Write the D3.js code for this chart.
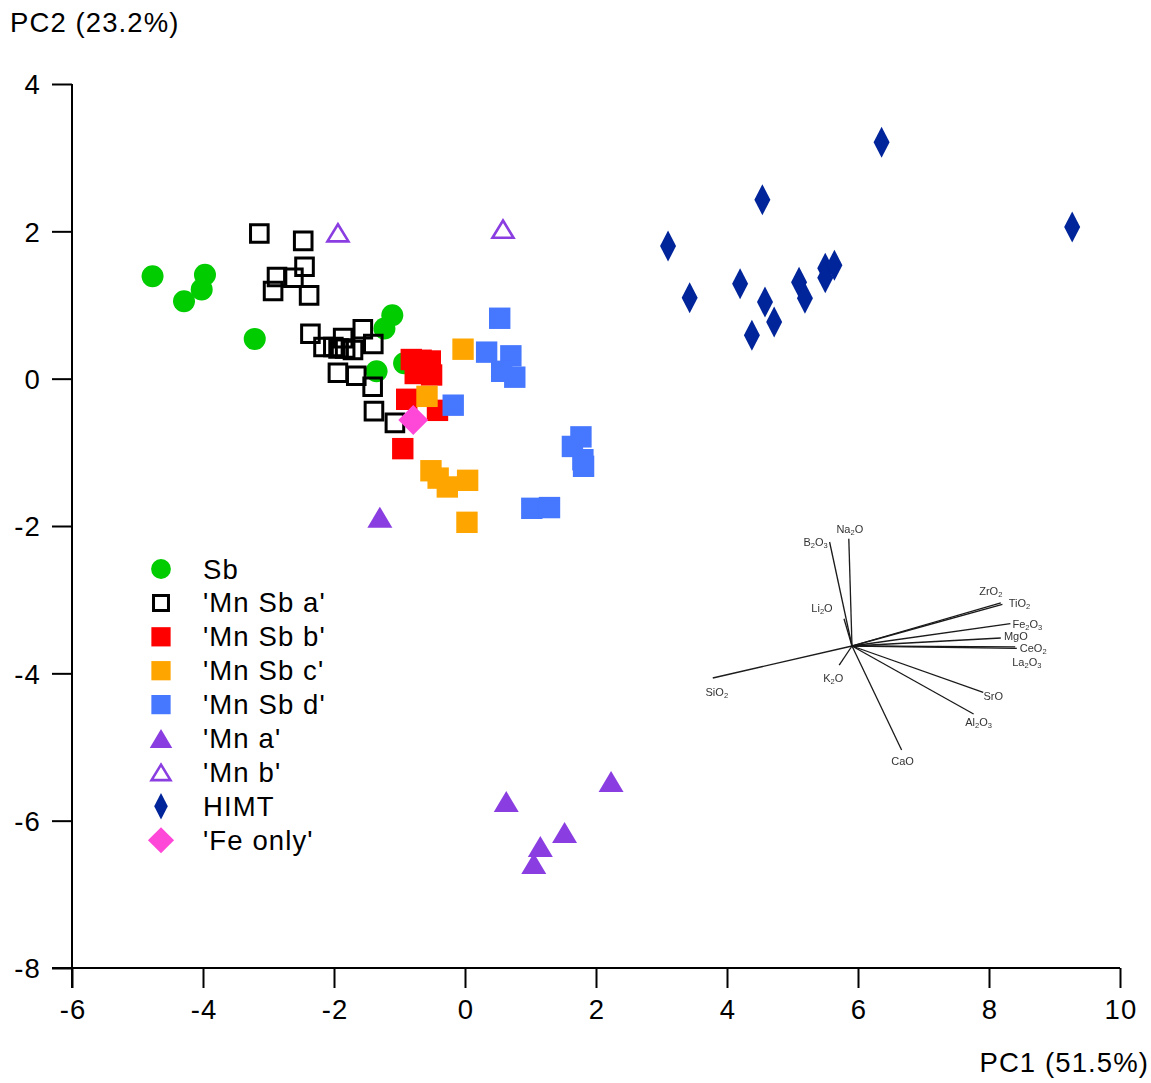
<!DOCTYPE html>
<html>
<head>
<meta charset="utf-8">
<script src="https://cdn.jsdelivr.net/npm/d3@7"></script>
<style>
  html, body { margin: 0; padding: 0; background: #fff; }
  svg { display: block; }
  text { font-family: "Liberation Sans", Arial, Helvetica, sans-serif; }
  .big { font-size: 27.5px; letter-spacing: 1.1px; }
</style>
</head>
<body>
<svg id="chart" width="1151" height="1083"></svg>
<script>
// ---- Scores (PC1, PC2) for each glass group ----
const sb = [[-4.77,1.39],[-3.97,1.41],[-4.02,1.21],[-4.29,1.05],[-3.21,0.54],
            [-1.11,0.86],[-1.23,0.68],[-1.35,0.10],[-0.93,0.21]];
const mnSbA = [[-3.14,1.97],[-2.47,1.87],[-2.45,1.52],[-2.87,1.38],[-2.62,1.37],
               [-2.93,1.19],[-2.38,1.13],[-2.36,0.61],[-1.56,0.67],[-1.86,0.55],
               [-2.16,0.43],[-2.01,0.43],[-1.93,0.41],[-1.83,0.41],[-1.71,0.39],
               [-1.40,0.47],[-1.94,0.08],[-1.66,0.04],[-1.41,-0.11],[-1.39,-0.44],[-1.07,-0.60]];
const mnSbB = [[-0.82,0.26],[-0.67,0.25],[-0.53,0.24],[-0.76,0.07],[-0.60,0.14],
               [-0.51,0.05],[-0.89,-0.28],[-0.42,-0.43],[-0.95,-0.95]];
const mnSbC = [[-0.03,0.40],[-0.58,-0.24],[-0.52,-1.25],[-0.41,-1.35],[-0.27,-1.47],
               [0.04,-1.38],[0.03,-1.95]];
const mnSbD = [[0.53,0.82],[0.33,0.36],[0.70,0.31],[0.56,0.10],[0.76,0.02],[-0.18,-0.36],
               [1.77,-0.79],[1.64,-0.92],[1.80,-1.10],[1.81,-1.19],[1.02,-1.76],[1.29,-1.75]];
const mnA = [[-1.30,-1.88],[0.63,-5.74],[2.23,-5.47],[1.52,-6.16],[1.15,-6.35],[1.05,-6.58]];
const mnB = [[-1.94,1.98],[0.58,2.03]];
const himt = [[6.36,3.21],[4.54,2.43],[3.10,1.80],[9.27,2.06],[3.43,1.10],[4.20,1.29],
              [4.58,1.04],[4.72,0.77],[4.38,0.59],[5.10,1.31],[5.19,1.09],[5.50,1.50],
              [5.64,1.54],[5.50,1.37]];
const feOnly = [[-0.79,-0.56]];

const seriesNames = ["Sb", "'Mn Sb a'", "'Mn Sb b'", "'Mn Sb c'", "'Mn Sb d'", "'Mn a'", "'Mn b'", "HIMT", "'Fe only'"];
const seriesData = [sb, mnSbA, mnSbB, mnSbC, mnSbD, mnA, mnB, himt, feOnly];

// ---- Axis ticks ----
const xTicks = [-6, -4, -2, 0, 2, 4, 6, 8, 10];
const yTicks = [-8, -6, -4, -2, 0, 2, 4];
const xTitle = "PC1 (51.5%)";
const yTitle = "PC2 (23.2%)";

// ---- Oxide loadings for the biplot inset (PC1, PC2) ----
const oxides = ["Na2O","B2O3","Li2O","ZrO2","TiO2","Fe2O3","MgO","CeO2","La2O3","SiO2","K2O","SrO","Al2O3","CaO"];
const loadPC1 = [-0.02,-0.14,-0.05, 0.93, 0.94, 0.99, 0.93, 1.02, 1.03,-0.87,-0.08, 0.82, 0.76, 0.31];
const loadPC2 = [ 0.67, 0.65, 0.17, 0.27, 0.26, 0.14, 0.05,-0.005,-0.015,-0.20,-0.12,-0.29,-0.425,-0.65];

// ---- Styling ----
const styles = [
  {shape: "circle",   fill: "#00cc00", stroke: "none"},
  {shape: "square",   fill: "none",    stroke: "#000"},
  {shape: "squareF",  fill: "#ff0000", stroke: "none"},
  {shape: "squareF",  fill: "#ffa500", stroke: "none"},
  {shape: "squareF",  fill: "#4677ff", stroke: "none"},
  {shape: "triangle", fill: "#8a3de0", stroke: "none"},
  {shape: "triangleO",fill: "none",    stroke: "#8a3de0"},
  {shape: "diamondT", fill: "#002499", stroke: "none"},
  {shape: "diamond",  fill: "#ff47d8", stroke: "none"}
];

const svg = d3.select("#chart");
const x = d3.scaleLinear().domain([-6, 10]).range([72, 1120]);
const y = d3.scaleLinear().domain([-8, 4]).range([968, 84]);

// path for a marker shape, centred at the origin; k scales it (plot = 1, legend smaller)
function shapePath(shape, k) {
  switch (shape) {
    case "circle": {
      const r = 11 * k;
      return `M${-r},0A${r},${r} 0 1,0 ${r},0A${r},${r} 0 1,0 ${-r},0Z`;
    }
    case "square": { const h = 8.8 * k; return `M${-h},${-h}H${h}V${h}H${-h}Z`; }
    case "squareF": { const h = 10.7 * k; return `M${-h},${-h}H${h}V${h}H${-h}Z`; }
    case "triangle": { const w = 12.5 * k, h = 10.5 * k; return `M0,${-h}L${w},${h}L${-w},${h}Z`; }
    case "triangleO": { const w = 10.5 * k, h = 8.6 * k; return `M0,${-h}L${w},${h}L${-w},${h}Z`; }
    case "diamondT": { const w = 8 * k, h = 15.5 * k; return `M0,${-h}L${w},0L0,${h}L${-w},0Z`; }
    case "diamond": { const h = 15 * k; return `M0,${-h}L${h},0L0,${h}L${-h},0Z`; }
  }
}
function strokeW(shape) { return shape === "square" ? 3 : shape === "triangleO" ? 2.6 : 0; }

// ---- Axes ----
const fmt = d => String(d);   // plain hyphen for negatives
const xAxis = d3.axisBottom(x).tickValues(xTicks).tickSize(20).tickSizeOuter(0).tickPadding(12).tickFormat(fmt);
const yAxis = d3.axisLeft(y).tickValues(yTicks).tickSize(20).tickSizeOuter(0).tickPadding(11).tickFormat(fmt);

const gx = svg.append("g").attr("transform", "translate(0,968)").call(xAxis);
const gy = svg.append("g").attr("transform", "translate(72,0)").call(yAxis);
[gx, gy].forEach(g => {
  g.attr("font-size", null).attr("font-family", null);
  g.select(".domain").attr("stroke", "#000").attr("stroke-width", 2);
  g.selectAll(".tick line").attr("stroke", "#000").attr("stroke-width", 2);
  g.selectAll(".tick text").attr("fill", "#000").attr("class", "big");
});
gx.selectAll(".tick text").attr("dy", "0.7em").attr("dx", 0.5);
gy.selectAll(".tick text").attr("dy", "0.36em");
gx.select(".domain").attr("d", "M52,0H1120");
gy.select(".domain").attr("d", "M0,84V988");

svg.append("text").attr("class", "big").attr("x", 10).attr("y", 32).text(yTitle);
svg.append("text").attr("class", "big").attr("x", 1149).attr("y", 1072)
  .attr("text-anchor", "end").text(xTitle);

// ---- Biplot of oxide loadings ----
const defs = svg.append("defs");
defs.append("filter").attr("id", "soft").append("feGaussianBlur").attr("stdDeviation", 0.45);
const inset = svg.append("g").attr("filter", "url(#soft)");
const lx = d3.scaleLinear().domain([0, 1]).range([852, 1012]);
const ly = d3.scaleLinear().domain([0, 1]).range([646, 486]);
// where each label sits relative to its vector tip (px)
const labelOffset = {
  Na2O:[1,-10], B2O3:[-14,0], Li2O:[-22,-11], ZrO2:[-10,-12], TiO2:[17,-1], Fe2O3:[17,0],
  MgO:[15,-2], CeO2:[18,1], La2O3:[10,14], SiO2:[4,14], K2O:[-6,13], SrO:[10,4],
  Al2O3:[5,8], CaO:[1,11]
};
oxides.forEach((name, i) => {
  const x1 = lx(loadPC1[i]), y1 = ly(loadPC2[i]);
  inset.append("line").attr("x1", lx(0)).attr("y1", ly(0)).attr("x2", x1).attr("y2", y1)
    .attr("stroke", "#1a1a1a").attr("stroke-width", 1.3);
  const off = labelOffset[name];
  const t = inset.append("text").attr("x", x1 + off[0]).attr("y", y1 + off[1] + 4)
    .attr("text-anchor", "middle").attr("font-size", 11)
    .attr("font-family", "'Open Sans', 'Liberation Sans', sans-serif").attr("fill", "#333");
  // split formula into element symbols and subscript digits
  name.match(/[A-Za-z]+|\d+/g).forEach(part => {
    if (/\d/.test(part)) t.append("tspan").attr("font-size", 7.5).attr("dy", 2).text(part);
    else {
      const sp = t.append("tspan").text(part);
      if (t.selectAll("tspan").size() > 1) sp.attr("dy", -2);
    }
  });
});

// ---- Scatter points ----
seriesData.forEach((data, si) => {
  const st = styles[si];
  svg.append("g").selectAll("path").data(data).join("path")
    .attr("transform", d => `translate(${x(d[0])},${y(d[1])})`)
    .attr("d", shapePath(st.shape, 1))
    .attr("fill", st.fill)
    .attr("stroke", st.stroke)
    .attr("stroke-width", strokeW(st.shape))
    .attr("stroke-linejoin", "miter");
});

// ---- Legend ----
const legend = svg.append("g");
seriesNames.forEach((name, i) => {
  const st = styles[i];
  const cy = 569 + i * 33.9;
  const k = st.shape === "square" ? 0.85 : st.shape === "diamondT" ? 0.85 : st.shape === "diamond" ? 0.87 : 0.9;
  legend.append("path").attr("transform", `translate(161,${cy})`)
    .attr("d", shapePath(st.shape, k))
    .attr("fill", st.fill).attr("stroke", st.stroke).attr("stroke-width", strokeW(st.shape));
  legend.append("text").attr("class", "big").attr("x", 203).attr("y", cy + 9.5).text(name);
});
</script>
</body>
</html>
